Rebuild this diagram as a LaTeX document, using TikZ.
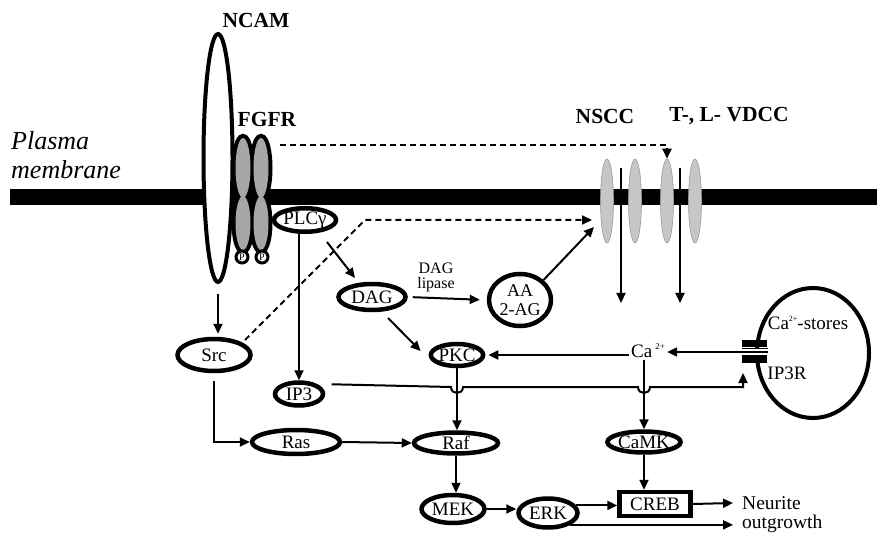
\documentclass[tikz,border=0pt]{standalone}
\usepackage{fontspec}
\setmainfont{Liberation Serif}
\usetikzlibrary{shapes.geometric,arrows.meta,calc}
\begin{document}
\begin{tikzpicture}[x=1pt,y=-1pt,
  arr/.style={line width=2pt,-{Triangle[length=10pt,width=9pt]}},
  dasharr/.style={arr,dash pattern=on 6pt off 4pt},
  bub/.style={ellipse,draw,line width=4.5pt,inner sep=0pt,fill=white,font=\fontsize{19}{21}\selectfont},
  lbl/.style={inner sep=0pt,font=\fontsize{19}{21}\selectfont},
  hdr/.style={inner sep=0pt,font=\fontsize{21.5}{24}\selectfont\bfseries},
  chan/.style={ellipse,draw=gray!80,fill=gray!45,line width=0.6pt,minimum width=13pt,minimum height=84pt,inner sep=0pt},
  pcirc/.style={circle,draw,line width=3pt,fill=white,minimum size=12pt,inner sep=0pt,font=\fontsize{10}{10}\selectfont}
]
\useasboundingbox (0,0) rectangle (877,534);

% membrane
\fill (10,189) rectangle (877,205);
\node[anchor=north west,inner sep=0pt,align=left,font=\fontsize{26}{29}\selectfont\itshape] (pm) at (11,131) {Plasma\\membrane};

% NCAM
\node[ellipse,draw,line width=4pt,fill=white,minimum width=29pt,minimum height=248pt,inner sep=0pt] (ncam) at (218,158) {};
\node[hdr] (ncamlbl) at (256,20) {NCAM};
\node[hdr] (fgfrlbl) at (267,119) {FGFR};

% FGFR lobes
\foreach \x in {243,261} {
  \draw[line width=8pt] (\x,168) ellipse[x radius=7.5, y radius=30];
  \draw[line width=8pt] (\x,223) ellipse[x radius=7.5, y radius=27];
}
\foreach \x in {243,261} {
  \fill[gray!70] (\x,168) ellipse[x radius=7.5, y radius=30];
  \fill[gray!70] (\x,223) ellipse[x radius=7.5, y radius=27];
}
\node[pcirc] (p1) at (242,257) {P};
\node[pcirc] (p2) at (262,257) {P};

% channels
\node[hdr] (nscclbl) at (605,116) {NSCC};
\node[hdr] (vdcclbl) at (729,116) {T-, L- VDCC};
\node[chan] (ch1) at (607,201) {};
\node[chan] (ch2) at (635,201) {};
\node[chan] (ch3) at (667,201) {};
\node[chan] (ch4) at (695,201) {};
\coordinate (l1top) at (621,168);
\coordinate (l1bot) at (621,303);
\coordinate (l2top) at (680,168);
\coordinate (l2bot) at (680,303);
\draw[arr] (l1top) -- (l1bot);
\draw[arr] (l2top) -- (l2bot);

% nodes
\node[bub,minimum width=62pt,minimum height=20pt] (plc) at (305,220) {PLCγ};
\node[bub,minimum width=67pt,minimum height=26pt] (dag) at (372,297) {DAG};
\node[bub,minimum width=62pt,minimum height=52pt,align=center,font=\fontsize{18}{19}\selectfont] (aa) at (520,300) {AA\\2-AG};
\node[bub,minimum width=73pt,minimum height=32pt] (src) at (214,355) {Src};
\node[bub,minimum width=51pt,minimum height=22pt] (pkc) at (457,355) {PKC};
\node[bub,minimum width=48pt,minimum height=23pt] (ip3) at (299,394) {IP3};
\node[bub,minimum width=88pt,minimum height=24pt] (ras) at (296,442) {Ras};
\node[bub,minimum width=84pt,minimum height=21pt] (raf) at (456,443) {Raf};
\node[bub,minimum width=68pt,minimum height=21pt] (camk) at (644,442) {CaMK};
\node[bub,minimum width=63pt,minimum height=28pt] (mek) at (453,509) {MEK};
\node[bub,minimum width=59pt,minimum height=29pt] (erk) at (548,513) {ERK};
\node[draw,line width=4.5pt,minimum width=71pt,minimum height=24pt,inner sep=0pt,font=\fontsize{19}{21}\selectfont] (creb) at (655,504) {CREB};
\node[lbl,inner sep=2pt] (ca) at (648,351) {Ca\,\smash{\raisebox{8pt}{\fontsize{9}{9}\selectfont 2+}}};
\node[anchor=north west,inner sep=0pt,align=left,font=\fontsize{19.5}{19}\selectfont] (neur) at (742,496) {Neurite\\outgrowth};
\node[inner sep=0pt,align=center,font=\fontsize{16}{15}\selectfont] (dagl) at (436,277) {DAG\\lipase};

% Ca stores
\draw[line width=4pt] (813,353) ellipse[x radius=56, y radius=65];
\fill[white] (745,347.5) rectangle (770,354.5);
\fill (742,340) rectangle (767,347);
\fill (742,355) rectangle (767,363);
\draw[line width=0.8pt] (742,348.5) -- (768,348.5);
\node[lbl] (stores) at (808,323) {Ca\smash{\raisebox{8pt}{\fontsize{8}{8}\selectfont 2+}}-stores};
\node[lbl] (ip3r) at (787,373) {IP3R};
\coordinate (ip3rout) at (768,352);
\coordinate (ip3rin) at (743,373);

% connectors
\coordinate (fgfrout) at (280,145);
\draw[dasharr] (fgfrout) -| (ch3.north);
\coordinate (srcbend) at (365,220);
\coordinate (srcin) at (592,220);
\coordinate (aain) at (594,227);
\draw[dasharr] ($(src)+(31,-15)$) -- (srcbend) -- (srcin);
\draw[arr] (aa.north east) -- (aain);
\draw[arr,shorten <=10pt,shorten >=3pt] (ncam.south) -- (ncam.south |- src.north);
\draw[arr,shorten <=8pt] (src.south) |- (ras.west);
\draw[arr] (ip3.north |- plc.south) -- (ip3.north);
\draw[arr] ($(plc)+(22,22)$) -- ($(dag)+(-17,-19)$);
\draw[arr,shorten <=5pt,shorten >=7pt] (dag.east) -- (aa.west);
\draw[arr] ($(dag)+(16,21)$) -- ($(pkc.west)+(-8,-4)$);
\draw[arr,shorten >=3pt] (ca.west |- pkc.east) -- (pkc.east);
\draw[arr] (ip3rout) -- (ip3rout -| ca.east);
\draw[arr] (pkc.south) -- (pkc.south |- raf.north);
\draw[arr] (camk.north |- ca.south) -- (camk.north);
\draw[arr] ([xshift=14pt]ip3.north east) -- (451,387)
   .. controls (451,395) and (463,395) .. (463,387) -- (638,387)
   .. controls (638,395) and (650,395) .. (650,387) -- (743,387) -- (ip3rin);
\draw[arr] (ras.east) -- (raf.west);
\draw[arr] (raf.south) -- (raf.south |- mek.north);
\draw[arr] (mek.east) -- (mek.east -| erk.west);
\draw[arr] (erk.15) -- (erk.15 -| creb.west);
\draw[arr] (camk.south) -- (camk.south |- creb.north);
\coordinate (nout1) at (733,503);
\coordinate (nout2) at (733,524);
\draw[arr] (creb.east) -- (nout1);
\draw[arr] (erk.south east) -- (erk.south east -| nout2);
\end{tikzpicture}
\end{document}
